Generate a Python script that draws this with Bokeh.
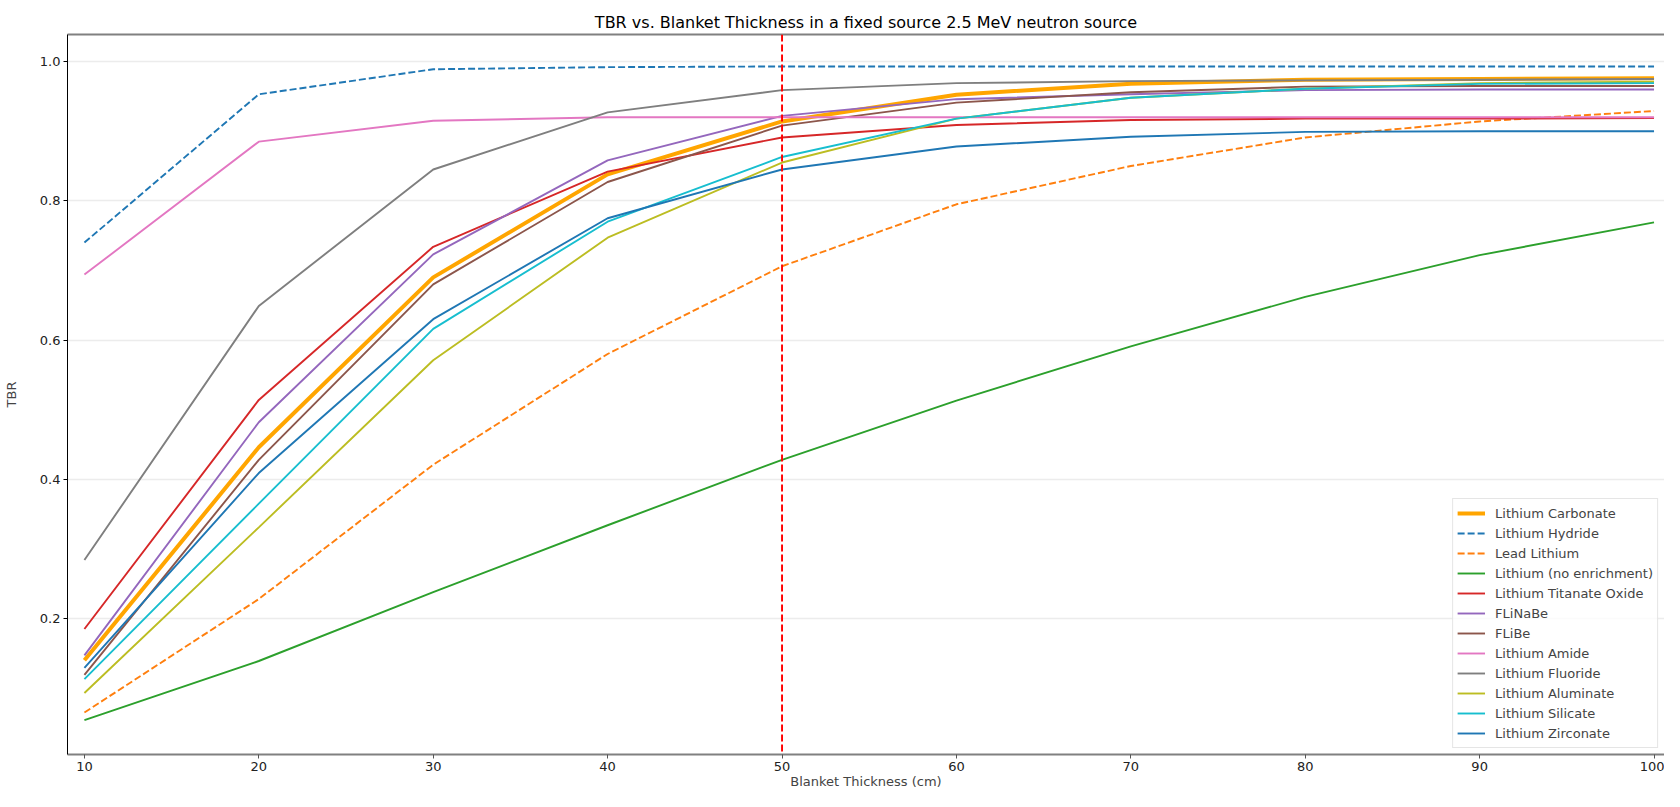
from bokeh.plotting import figure
from bokeh.models import Span, LinearAxis, FixedTicker, Range1d, NumeralTickFormatter, Spacer
from bokeh.layouts import column
from bokeh.embed import file_html
from bokeh.resources import INLINE

thickness = [10, 20, 30, 40, 50, 60, 70, 80, 90, 100]

carbonate = [0.140, 0.446, 0.690, 0.838, 0.914, 0.9525, 0.968, 0.974, 0.975, 0.976]
hydride = [0.740, 0.953, 0.989, 0.992, 0.993, 0.993, 0.993, 0.993, 0.993, 0.993]
lead_lithium = [0.065, 0.228, 0.421, 0.580, 0.706, 0.795, 0.850, 0.891, 0.914, 0.929]
natural_li = [0.054, 0.139, 0.238, 0.334, 0.428, 0.513, 0.591, 0.662, 0.722, 0.769]
titanate = [0.185, 0.514, 0.734, 0.842, 0.891, 0.909, 0.916, 0.918, 0.918, 0.919]
flinabe = [0.147, 0.482, 0.723, 0.858, 0.922, 0.946, 0.953, 0.959, 0.960, 0.960]
flibe = [0.119, 0.428, 0.680, 0.827, 0.908, 0.941, 0.956, 0.964, 0.965, 0.965]
amide = [0.694, 0.885, 0.915, 0.920, 0.920, 0.920, 0.920, 0.920, 0.920, 0.920]
fluoride = [0.284, 0.649, 0.845, 0.927, 0.959, 0.969, 0.972, 0.973, 0.974, 0.975]
aluminate = [0.093, 0.331, 0.571, 0.747, 0.855, 0.918, 0.948, 0.961, 0.969, 0.971]
silicate = [0.113, 0.365, 0.616, 0.770, 0.863, 0.918, 0.948, 0.961, 0.968, 0.969]
zirconate = [0.129, 0.409, 0.630, 0.775, 0.845, 0.878, 0.892, 0.899, 0.900, 0.900]

names = ["Lithium Carbonate", "Lithium Hydride", "Lead Lithium", "Lithium (no enrichment)",
         "Lithium Titanate Oxide", "FLiNaBe", "FLiBe", "Lithium Amide", "Lithium Fluoride",
         "Lithium Aluminate", "Lithium Silicate", "Lithium Zirconate"]
series = [carbonate, hydride, lead_lithium, natural_li, titanate, flinabe, flibe, amide,
          fluoride, aluminate, silicate, zirconate]
colors = ["#ffa500", "#1f77b4", "#ff7f0e", "#2ca02c", "#d62728", "#9467bd", "#8c564b",
          "#e377c2", "#7f7f7f", "#bcbd22", "#17becf", "#1f77b4"]
dashes = ["solid", "7 3", "7 3"] + ["solid"] * 9
widths = [4] + [1.9] * 11

x_ticks = [10, 20, 30, 40, 50, 60, 70, 80, 90, 100]
y_ticks = [0.2, 0.4, 0.6, 0.8, 1.0]
marker_x = 50

FONT = "DejaVu Sans"

p = figure(width=1664, height=783, output_backend="svg", toolbar_location=None,
           x_range=Range1d(9.03, 100.6), y_range=Range1d(0.0047, 1.0389),
           title="TBR vs. Blanket Thickness in a fixed source 2.5 MeV neutron source",
           min_border_left=67, min_border_right=0, min_border_top=0, min_border_bottom=0)

p.title.align = "center"
p.title.text_font = FONT
p.title.text_font_style = "normal"
p.title.text_font_size = "16px"
p.title.text_color = "#000000"
p.title.standoff = 5

p.outline_line_color = None
p.background_fill_color = "white"
p.border_fill_color = "white"

for name, ys, c, d, w in zip(names, series, colors, dashes, widths):
    p.line(thickness, ys, line_color=c, line_width=w, line_dash=d, legend_label=name)

p.add_layout(Span(location=marker_x, dimension="height", line_color="#ff0000",
                  line_width=1.9, line_dash="7 3"))

# axes
p.xaxis.ticker = FixedTicker(ticks=x_ticks)
p.yaxis.ticker = FixedTicker(ticks=y_ticks)
p.yaxis.formatter = NumeralTickFormatter(format="0.0")
p.xaxis.axis_label = "Blanket Thickness (cm)"
p.yaxis.axis_label = "TBR"
for ax in (p.xaxis[0], p.yaxis[0]):
    ax.axis_label_text_font = FONT
    ax.axis_label_text_font_style = "normal"
    ax.axis_label_text_font_size = "13px"
    ax.major_label_text_font = FONT
    ax.major_label_text_font_size = "13px"
    ax.major_label_text_color = "#222222"
    ax.minor_tick_line_color = None
    ax.major_tick_out = 4
    ax.major_tick_in = 0
    ax.major_label_standoff = 3
p.xaxis.axis_label_standoff = 0
p.yaxis.axis_label_standoff = 18
p.xaxis.axis_line_color = "#808080"
p.xaxis.axis_line_width = 2
p.xaxis.major_tick_line_color = "#555555"
p.yaxis.axis_line_color = "#000000"
p.yaxis.axis_line_width = 1
p.yaxis.major_tick_line_color = "#000000"

top_axis = LinearAxis(ticker=FixedTicker(ticks=[]), major_label_text_font_size="0px",
                      axis_line_color="#808080", axis_line_width=2,
                      major_tick_line_color=None, minor_tick_line_color=None)
p.add_layout(top_axis, "above")

p.xgrid.grid_line_color = None
p.ygrid.grid_line_color = "#ececec"
p.ygrid.grid_line_width = 1.5

leg = p.legend[0]
leg.location = "bottom_right"
leg.margin = 6
leg.padding = 4
leg.spacing = 0
leg.label_text_font = FONT
leg.label_text_font_size = "13px"
leg.label_height = 20
leg.glyph_height = 20
leg.glyph_width = 28
leg.label_standoff = 10
leg.border_line_color = "#cccccc"
leg.border_line_width = 1
leg.background_fill_alpha = 0.8

layout = column(Spacer(width=1664, height=8), p)

open("out.html", "w").write(file_html(layout, INLINE))
